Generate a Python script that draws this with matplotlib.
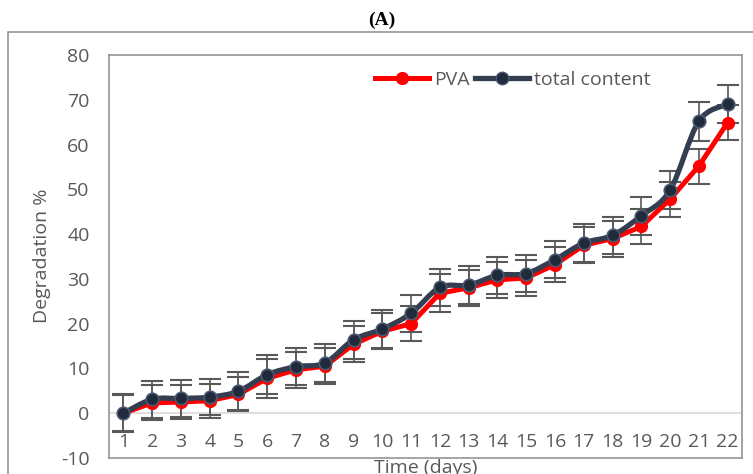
import matplotlib.pyplot as plt
import numpy as np
from matplotlib.path import Path
from matplotlib.patches import PathPatch, Rectangle
from matplotlib.lines import Line2D

# data
days = list(range(1, 23))
pva = [0, 2.3, 2.5, 2.8, 4.2, 7.8, 9.7, 10.5, 15.4, 18.3, 20.0,
       26.8, 28.0, 29.8, 30.2, 33.2, 37.5, 39.0, 41.7, 47.8, 55.2, 64.9]
total = [0, 3.1, 3.3, 3.6, 4.9, 8.6, 10.4, 11.2, 16.4, 18.8, 22.3,
         28.1, 28.6, 30.8, 31.2, 34.3, 38.0, 39.7, 44.1, 49.8, 65.2, 69.0]
pva_err = [4.0, 3.9, 3.9, 3.8, 3.8, 4.3, 4.0, 4.0, 4.0, 4.0, 3.9,
           4.2, 4.0, 4.0, 4.0, 4.0, 4.0, 4.0, 4.0, 3.9, 3.9, 3.9]
total_err = [4.2, 4.1, 4.1, 4.1, 4.2, 4.3, 4.2, 4.2, 4.2, 4.2, 4.2,
             4.2, 4.2, 4.2, 4.2, 4.2, 4.2, 4.2, 4.2, 4.2, 4.3, 4.2]
yticks = [-10, 0, 10, 20, 30, 40, 50, 60, 70, 80]

RED = '#FF0000'
DARK = '#333F50'
GREY = '#595959'

plt.rcParams['font.family'] = ['Open Sans', 'DejaVu Sans']
plt.rcParams['axes.unicode_minus'] = False

fig = plt.figure(figsize=(7.53, 4.74), dpi=100)
ax = fig.add_axes([109 / 753, 16 / 474, 633 / 753, 403 / 474])

# outer chart border
fig.patches.append(Rectangle((8 / 753, -0.2), 2, 1 - 32 / 474 + 0.2,
                             transform=fig.transFigure, fill=False,
                             edgecolor='#8C8C8C', lw=1.1))

ax.axhline(0, color='#D9D9D9', lw=1.2, zorder=1)

# error bars under the lines
ax.errorbar(days, pva, yerr=pva_err, fmt='none', ecolor=GREY, elinewidth=1.2,
            capsize=8, capthick=1.5, zorder=2)
ax.errorbar(days, total, yerr=total_err, fmt='none', ecolor=GREY, elinewidth=1.2,
            capsize=8, capthick=1.5, zorder=2)

# PVA: straight segments
ax.plot(days, pva, color=RED, lw=3.6, marker='o', ms=8.5, mfc=RED, mec=RED,
        zorder=3, solid_capstyle='round')

# total content: Excel style smoothed line (bezier through the points)
x = np.array(days, dtype=float)
y = np.array(total, dtype=float)
verts = [(x[0], y[0])]
codes = [Path.MOVETO]
for i in range(len(x) - 1):
    x0, y0 = (x[i - 1], y[i - 1]) if i > 0 else (x[i], y[i])
    x3, y3 = (x[i + 2], y[i + 2]) if i + 2 < len(x) else (x[i + 1], y[i + 1])
    c1 = (x[i] + (x[i + 1] - x0) / 6, y[i] + (y[i + 1] - y0) / 6)
    c2 = (x[i + 1] - (x3 - x[i]) / 6, y[i + 1] - (y3 - y[i]) / 6)
    verts += [c1, c2, (x[i + 1], y[i + 1])]
    codes += [Path.CURVE4] * 3
ax.add_patch(PathPatch(Path(verts, codes), fill=False, edgecolor=DARK, lw=3.8,
                       zorder=4, capstyle='round'))
ax.plot(days, total, ls='none', marker='o', ms=9, mfc='#1F2A3A', mec='#4A5870',
        mew=1.2, zorder=5)

ax.set_xlim(0.5, 22.5)
ax.set_ylim(-10, 80)
ax.set_xticks(days)
ax.set_xticklabels([str(d) for d in days])
ax.set_yticks(yticks)
ax.tick_params(axis='x', length=0, pad=-18, labelsize=14, labelcolor=GREY)
ax.tick_params(axis='y', length=0, pad=14, labelsize=14, labelcolor=GREY)
for s in ax.spines.values():
    s.set_color('#8C8C8C')
    s.set_linewidth(1.1)

ax.set_xlabel('Time (days)', fontsize=14, color=GREY)
ax.xaxis.set_label_coords(0.5, -0.002)
ax.xaxis.label.set_va('top')
fig.text(42 / 753, 1 - 256 / 474, 'Degradation %', rotation=90, fontsize=14,
         color=GREY, ha='center', va='center')

fig.text(382 / 753, 1 - 20 / 474, '(A)', fontsize=14, fontweight='bold',
         family='Liberation Serif', ha='center', va='center')

handles = [
    Line2D([], [], color=RED, lw=3.6, marker='o', ms=8.5, mfc=RED, mec=RED),
    Line2D([], [], color=DARK, lw=3.8, marker='o', ms=9, mfc='#1F2A3A', mec='#4A5870'),
]
leg = ax.legend(handles, ['PVA', 'total content'], loc='center',
                bbox_to_anchor=(0.638, 0.938), ncol=2, frameon=False,
                fontsize=14, handlelength=2.8, handletextpad=0.25,
                columnspacing=0.25, borderpad=0)
for t in leg.get_texts():
    t.set_color(GREY)

fig.savefig('out.png', dpi=100)
